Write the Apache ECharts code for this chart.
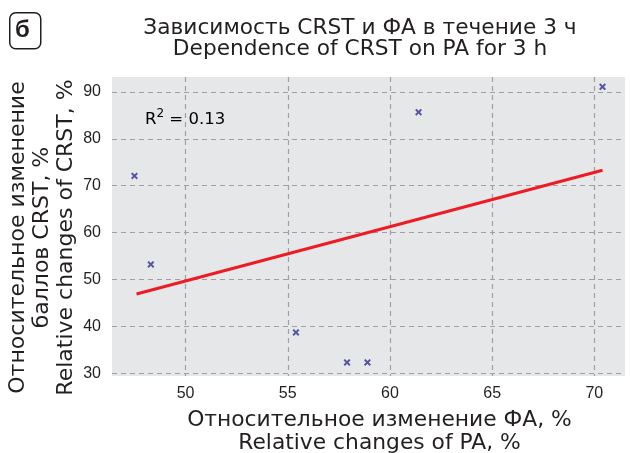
<!DOCTYPE html>
<html>
<head>
<meta charset="utf-8">
<script src="https://cdn.jsdelivr.net/npm/echarts@6/dist/echarts.min.js"></script>
<style>
html,body{margin:0;padding:0;background:#fff;}
#c{width:630px;height:453px;}
</style>
</head>
<body>
<div id="c"></div>
<script>
// Data
var paChange = [47.5, 48.3, 55.4, 57.9, 58.9, 61.4, 70.4];
var crstChange = [72.1, 53.2, 38.7, 32.3, 32.3, 85.7, 91.1];
var trendX = [47.6, 70.4];
var trendY = [46.9, 73.3];
var xTicks = [50, 55, 60, 65, 70];
var yTicks = [30, 40, 50, 60, 70, 80, 90];
var rSquared = '0.13';
var titleText = 'Зависимость CRST и ФА в течение 3 ч\nDependence of CRST on PA for 3 h';
var xName = 'Относительное изменение ФА, %\nRelative changes of PA, %';
var yName = 'Относительное изменение\nбаллов CRST, %\nRelative changes of CRST, %';
var panelLetter = 'б';

var points = paChange.map(function (x, i) { return [x, crstChange[i]]; });
var trend = trendX.map(function (x, i) { return [x, trendY[i]]; });

var FONT = '"Liberation Sans", Arial, sans-serif';
var WIDE = '"DejaVu Sans", "Liberation Sans", sans-serif';
var crossPath = 'path://M0,2L2,0L5,3L8,0L10,2L7,5L10,8L8,10L5,7L2,10L0,8L3,5Z';

var chart = echarts.init(document.getElementById('c'), null, {renderer: 'canvas'});
chart.setOption({
  backgroundColor: '#ffffff',
  animation: false,
  title: {
    text: titleText,
    left: 355,
    textAlign: 'center',
    top: 13,
    textStyle: {fontFamily: WIDE, fontSize: 21.7, fontWeight: 'normal', color: '#231f20', lineHeight: 21}
  },
  grid: {left: 112, right: 5, top: 77, bottom: 77, show: true, backgroundColor: '#e6e7e9', borderWidth: 0, outerBoundsMode: 'none', containLabel: false},
  xAxis: {
    type: 'value',
    min: 46.4, max: 71.5,
    name: xName,
    nameLocation: 'middle',
    nameGap: 33,
    nameMoveOverlap: false,
    nameTextStyle: {fontFamily: WIDE, fontSize: 21.8, color: '#231f20', lineHeight: 23, verticalAlign: 'top', padding: [0, 0, 0, 22]},
    axisLine: {show: false},
    axisTick: {show: false, customValues: xTicks},
    axisLabel: {customValues: xTicks, fontFamily: FONT, fontSize: 16, color: '#231f20', margin: 10},
    splitLine: {show: true, lineStyle: {color: '#a0a0a2', type: [5, 4], width: 1.2}}
  },
  yAxis: {
    type: 'value',
    min: 29.4, max: 93.2,
    name: yName,
    nameLocation: 'middle',
    nameGap: 34,
    nameRotate: 90,
    nameMoveOverlap: false,
    nameTextStyle: {fontFamily: WIDE, fontSize: 22, color: '#231f20', lineHeight: 24, verticalAlign: 'bottom', padding: [0, 22, 0, 0]},
    axisLine: {show: false},
    axisTick: {show: false, customValues: yTicks},
    axisLabel: {customValues: yTicks, fontFamily: FONT, fontSize: 16, color: '#231f20', margin: 11},
    splitLine: {show: true, lineStyle: {color: '#a0a0a2', type: [5, 4], width: 1.2}}
  },
  graphic: [
    {
      type: 'rect', left: 9, top: 12,
      shape: {width: 31, height: 36, r: 6},
      style: {fill: '#fff', stroke: '#231f20', lineWidth: 1.5}
    },
    {
      type: 'text', left: 15, top: 18,
      style: {text: panelLetter, font: 'bold 24px ' + FONT, fill: '#231f20'}
    },
    {
      type: 'text', left: 145, top: 108,
      style: {
        text: '{a|R}{s|2}{a| = ' + rSquared + '}',
        rich: {
          a: {fontFamily: WIDE, fontSize: 16.5, color: '#231f20', verticalAlign: 'bottom', lineHeight: 20},
          s: {fontFamily: WIDE, fontSize: 12, color: '#231f20', verticalAlign: 'top', lineHeight: 20, padding: [0, 0, 10, 0]}
        }
      }
    }
  ],
  series: [
    {
      type: 'line',
      data: trend,
      symbol: 'none',
      lineStyle: {color: '#ed1c24', width: 3},
      z: 3
    },
    {
      type: 'scatter',
      data: points,
      symbol: crossPath,
      symbolSize: 7,
      itemStyle: {color: '#2e3192'},
      z: 4
    }
  ]
});
</script>
</body>
</html>
